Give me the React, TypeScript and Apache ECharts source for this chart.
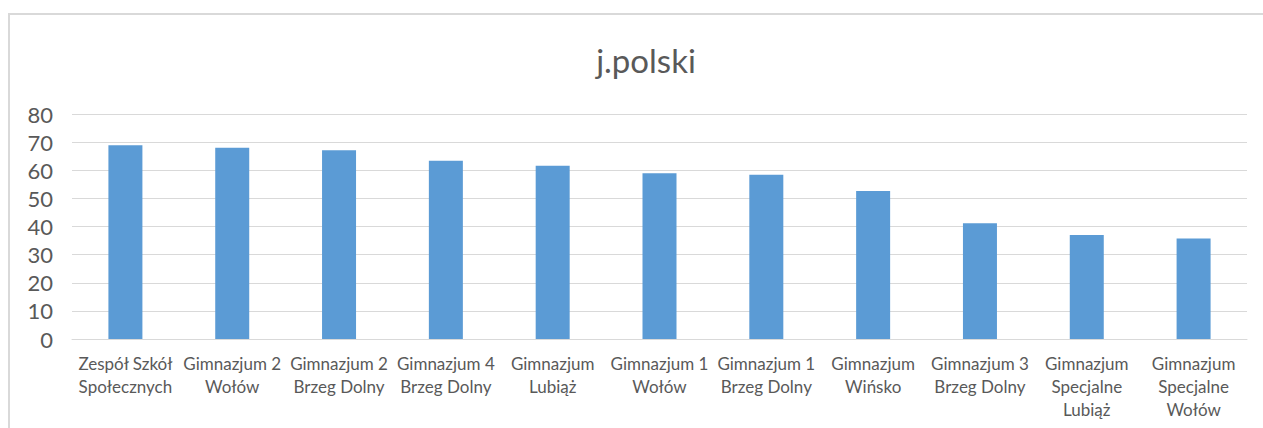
import React, { useEffect, useRef } from "react";
import * as echarts from "echarts";

const categories: string[] = [
  "Zespół Szkół\nSpołecznych",
  "Gimnazjum 2\nWołów",
  "Gimnazjum 2\nBrzeg Dolny",
  "Gimnazjum 4\nBrzeg Dolny",
  "Gimnazjum\nLubiąż",
  "Gimnazjum 1\nWołów",
  "Gimnazjum 1\nBrzeg Dolny",
  "Gimnazjum\nWińsko",
  "Gimnazjum 3\nBrzeg Dolny",
  "Gimnazjum\nSpecjalne\nLubiąż",
  "Gimnazjum\nSpecjalne\nWołów",
];

const values: number[] = [68.9, 68.0, 67.1, 63.4, 61.6, 58.9, 58.4, 52.6, 41.2, 37.0, 35.7];

const titleText = "j.polski";

const FONT = "Lato, 'Open Sans', sans-serif";
const TEXT = "#595959";

export default function App() {
  const ref = useRef<HTMLDivElement>(null);
  useEffect(() => {
    if (!ref.current) return;
    const chart = echarts.init(ref.current, undefined, { renderer: "svg" });
    chart.setOption({
      animation: false,
      backgroundColor: "#ffffff",
      textStyle: { fontFamily: FONT },
      title: {
        text: titleText,
        left: 641,
        textAlign: "center",
        top: 38,
        textStyle: { fontFamily: FONT, fontSize: 33, fontWeight: "normal", color: TEXT },
      },
      graphic: [
        {
          type: "rect",
          shape: { x: 9, y: 14, width: 1400, height: 600 },
          style: { fill: "none", stroke: "#d9d9d9", lineWidth: 2 },
          silent: true,
          z: -1,
        },
      ],
      grid: { left: 72, right: 16, top: 114, bottom: 89, containLabel: false },
      xAxis: {
        type: "category",
        data: categories,
        axisLine: { show: true, lineStyle: { color: "#d9d9d9", width: 1 } },
        axisTick: { show: false },
        axisLabel: {
          interval: 0,
          margin: 13,
          fontSize: 17,
          lineHeight: 23,
          color: TEXT,
          fontFamily: FONT,
        },
      },
      yAxis: {
        type: "value",
        min: 0,
        max: 80,
        interval: 10,
        axisLine: { show: false },
        axisTick: { show: false },
        axisLabel: { fontSize: 22, color: TEXT, margin: 19, fontFamily: FONT },
        splitLine: { lineStyle: { color: "#d9d9d9", width: 1 } },
      },
      series: [
        {
          type: "bar",
          data: values,
          barWidth: 34,
          itemStyle: { color: "#5b9bd5" },
        },
      ],
    });
    return () => chart.dispose();
  }, []);
  return (
    <div
      ref={ref}
      style={{ position: "fixed", left: 0, top: 0, width: 1263, height: 428 }}
    />
  );
}
